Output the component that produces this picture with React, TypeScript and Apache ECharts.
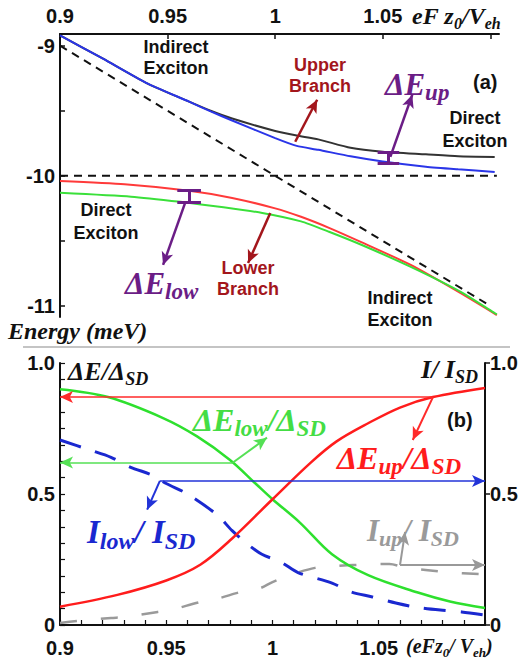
import React, { useEffect, useRef } from 'react';
import * as echarts from 'echarts';

const SANS = '"Liberation Sans", Arial, sans-serif';
const SERIF = '"Liberation Serif", "Times New Roman", serif';

// ---------- panel (a) data ----------
const blackX = [0.9, 0.92, 0.94, 0.96, 0.97, 0.98, 1.0, 1.01, 1.02, 1.035, 1.05, 1.07, 1.085, 1.102];
const blackE = [-8.92, -9.1, -9.285, -9.43, -9.5, -9.56, -9.655, -9.69, -9.72, -9.785, -9.815, -9.835, -9.85, -9.855];
const blueX = [0.9, 0.92, 0.94, 0.96, 0.97, 0.98, 1.0, 1.01, 1.02, 1.035, 1.05, 1.07, 1.085, 1.102];
const blueE = [-8.92, -9.1, -9.285, -9.43, -9.505, -9.575, -9.71, -9.77, -9.8, -9.85, -9.89, -9.93, -9.95, -9.97];
const redX = [0.9, 0.93, 0.96, 0.98, 1.0, 1.012, 1.025, 1.04, 1.063, 1.086, 1.103];
const redE = [-10.04, -10.065, -10.115, -10.17, -10.25, -10.315, -10.4, -10.51, -10.685, -10.9, -11.07];
const greenX = [0.9, 0.933, 0.956, 0.975, 0.994, 1.012, 1.025, 1.04, 1.063, 1.086, 1.103];
const greenE = [-10.13, -10.16, -10.2, -10.24, -10.285, -10.35, -10.43, -10.53, -10.7, -10.89, -11.065];
const indirectX = [0.9, 1.1];
const indirectE = [-9, -11];
const directX = [0.9, 1.103];
const directE = [-10, -10];

const topTickLabels = [0.9, 0.95, 1, 1.05];
const topTicks = [0.9, 0.95, 1, 1.05, 1.1];
const energyLabels = [-11, -10, -9];
const energyTicks = [-11, -10.5, -10, -9.5, -9];

// ---------- panel (b) data ----------
const gLowX = [0.9, 0.9226, 0.9485, 0.9645, 0.98, 0.992, 1.0, 1.013, 1.028, 1.045, 1.068, 1.0835, 1.1];
const gLowY = [0.9, 0.87, 0.79, 0.72, 0.63, 0.54, 0.48, 0.39, 0.27, 0.19, 0.125, 0.09, 0.065];
const rUpX = [0.9, 0.927, 0.95, 0.966, 0.981, 1.0, 1.018, 1.03, 1.045, 1.06, 1.0755, 1.1];
const rUpY = [0.07, 0.115, 0.17, 0.23, 0.33, 0.48, 0.62, 0.7, 0.77, 0.83, 0.87, 0.905];
const iLowX = [0.9, 0.914, 0.924, 0.933, 0.944, 0.95, 0.96, 0.974, 0.981, 0.988, 0.995, 1.004, 1.012, 1.028, 1.037, 1.047, 1.058, 1.067, 1.079, 1.089, 1.1];
const iLowY = [0.706, 0.668, 0.64, 0.603, 0.57, 0.54, 0.5, 0.42, 0.36, 0.31, 0.27, 0.24, 0.2, 0.16, 0.126, 0.107, 0.084, 0.069, 0.057, 0.05, 0.038];
const iUpX = [0.9, 0.908, 0.924, 0.93, 0.946, 0.952, 0.966, 0.974, 0.985, 0.994, 1.0, 1.008, 1.02, 1.03, 1.038, 1.055, 1.063, 1.072, 1.084, 1.097];
const iUpY = [0.008, 0.015, 0.027, 0.03, 0.05, 0.057, 0.088, 0.1, 0.126, 0.14, 0.164, 0.19, 0.218, 0.225, 0.229, 0.233, 0.218, 0.21, 0.2, 0.195];

const botTickLabels = [0.9, 0.95, 1, 1.05];
const botTicks = Array.from({ length: 21 }, (_, i) => +(0.9 + i * 0.01).toFixed(2));
const ratioLabels = [0, 0.5, 1];
const ratioTicks = Array.from({ length: 17 }, (_, i) => i / 16);

// ---------- annotation anchor points (data coordinates) ----------
const upperBranchArrow = [[1.0093, -9.738], [1.0195, -9.415]];
const lowerBranchArrow = [[0.9977, -10.285], [0.9874, -10.67]];
const dEupArrow = [[1.0535, -9.854], [1.0637, -9.377]];
const dElowArrow = [[0.9581, -10.21], [0.9479, -10.685]];
const dEupBar = { x: 1.0526, w: 0.005, y1: -9.815, y2: -9.9 };
const dElowBar = { x: 0.96, w: 0.0055, y1: -10.108, y2: -10.2 };

const redRef = [[1.0755, 0.87], [0.9, 0.87], [1.066, 0.706]];
const greenRef = [[0.9814, 0.62], [0.9, 0.62], [0.9974, 0.715]];
const blueRef = [[0.947, 0.55], [1.1, 0.55], [0.941, 0.44]];
const grayRef = [[1.06, 0.229], [1.1, 0.229], [1.0624, 0.355]];

const pairs = (xs: number[], ys: number[]) => xs.map((x, i) => [x, ys[i]]);

function seg(a: number[], b: number[], color: string, width: number, arrowEnd: boolean, arrowStart = false) {
  const ls = { color, width, type: 'solid' };
  return [
    { coord: a, symbol: arrowStart ? 'arrow' : 'none', symbolSize: [9, 13], lineStyle: ls },
    { coord: b, symbol: arrowEnd ? 'arrow' : 'none', symbolSize: [9, 13], lineStyle: ls },
  ];
}

function markSeries(xi: number, yi: number, data: any[]) {
  return {
    type: 'line', xAxisIndex: xi, yAxisIndex: yi, data: [], clip: false, silent: true,
    markLine: { silent: true, animation: false, label: { show: false }, symbol: ['none', 'none'], data },
  };
}

function txt(x: number, y: number, text: string, size: number, fill: string, align = 'center', weight = 'bold', family = SANS, style = 'normal') {
  return {
    type: 'text', x, y, silent: true,
    style: { text, fill, textAlign: align, textVerticalAlign: 'middle', font: `${style} ${weight} ${size}px ${family}` },
  };
}

function two(x: number, y: number, a: string, b: string, size: number, fill: string, gap = 22) {
  return [txt(x, y, a, size, fill), txt(x, y + gap, b, size, fill)];
}

// italic serif text with subscripts; y is the centre of the main glyphs
function rich(x: number, y: number, parts: Array<[string, boolean]>, size: number, subSize: number, fill: string, align = 'left') {
  const e = 0.17 * size + 0.39 * (size - subSize);
  const L = size / 2 + e + subSize / 2;
  const p = Math.max(0, L - subSize);
  return {
    type: 'text', x, y: y + (L - size) / 2, silent: true,
    style: {
      text: parts.map(([t, s]) => `{${s ? 's' : 'm'}|${t}}`).join(''),
      fill, textAlign: align, textVerticalAlign: 'middle',
      rich: {
        m: { fontFamily: SERIF, fontStyle: 'italic', fontWeight: 'bold', fontSize: size, lineHeight: size, verticalAlign: 'top', fill },
        s: { fontFamily: SERIF, fontStyle: 'italic', fontWeight: 'bold', fontSize: subSize, padding: [p, 0, 0, 0], verticalAlign: 'bottom', fill },
      },
    },
  };
}

const tickFont = { fontFamily: SANS, fontWeight: 'bold', fontSize: 20, color: '#111' };
const axLine = { show: true, lineStyle: { color: '#111', width: 2 } };
const fmt = (v: number) => (v === 1 ? '1' : String(v));

export default function App() {
  const ref = useRef<HTMLDivElement>(null);
  useEffect(() => {
    if (!ref.current) return;
    const chart = echarts.init(ref.current, undefined, { renderer: 'svg' });
    const PURPLE = '#6b1d86';
    const DRED = '#a3161c';
    const line = (xi: number, yi: number, d: number[][], color: string, width: number, type: any = 'solid', smooth = 0.2) => ({
      type: 'line', xAxisIndex: xi, yAxisIndex: yi, data: d, showSymbol: false, clip: false, smooth,
      lineStyle: { color, width, type },
    });
    const option: any = {
      animation: false,
      backgroundColor: '#fff',
      grid: [
        { left: 60, top: 34, width: 439, height: 283 },
        { left: 60, top: 363, width: 425, height: 262 },
      ],
      xAxis: [
        {
          gridIndex: 0, type: 'value', position: 'top', min: 0.9, max: 1.104,
          axisLine: axLine, splitLine: { show: false },
          axisTick: { show: true, inside: true, length: 5, customValues: topTicks, lineStyle: { color: '#111', width: 1.5 } },
          axisLabel: { ...tickFont, margin: 8, customValues: topTickLabels, formatter: fmt },
        },
        {
          gridIndex: 1, type: 'value', position: 'bottom', min: 0.9, max: 1.1,
          axisLine: axLine, splitLine: { show: false },
          axisTick: { show: true, inside: true, length: 5, customValues: botTicks, lineStyle: { color: '#111', width: 1.2 } },
          axisLabel: { ...tickFont, margin: 13, customValues: botTickLabels, formatter: fmt },
        },
      ],
      yAxis: [
        {
          gridIndex: 0, type: 'value', min: -11.085, max: -8.91,
          axisLine: axLine, splitLine: { show: false },
          axisTick: { show: true, inside: true, length: 5, customValues: energyTicks, lineStyle: { color: '#111', width: 1.5 } },
          axisLabel: { ...tickFont, margin: 5, customValues: energyLabels, formatter: (v: number) => String(v) },
        },
        {
          gridIndex: 1, type: 'value', min: 0, max: 1, position: 'left',
          axisLine: axLine, splitLine: { show: false },
          axisTick: { show: true, inside: true, length: 5, customValues: ratioTicks, lineStyle: { color: '#111', width: 1.2 } },
          axisLabel: { ...tickFont, margin: 5, customValues: ratioLabels, formatter: (v: number) => (v === 1 ? '1.0' : String(v)) },
        },
        {
          gridIndex: 1, type: 'value', min: 0, max: 1, position: 'right',
          axisLine: axLine, splitLine: { show: false },
          axisTick: { show: true, inside: false, length: 5, customValues: ratioLabels, lineStyle: { color: '#111', width: 1.5 } },
          axisLabel: { ...tickFont, margin: 5, customValues: ratioLabels, formatter: (v: number) => (v === 1 ? '1.0' : String(v)) },
        },
      ],
      series: [
        line(0, 0, pairs(indirectX, indirectE), '#111', 2, [8, 6], 0),
        line(0, 0, pairs(directX, directE), '#111', 2, [8, 6], 0),
        line(0, 0, pairs(blackX, blackE), '#333', 2),
        line(0, 0, pairs(blueX, blueE), '#2a35e8', 2),
        line(0, 0, pairs(redX, redE), '#ff3a3a', 2),
        line(0, 0, pairs(greenX, greenE), '#3ae03a', 2),
        markSeries(0, 0, [
          seg(upperBranchArrow[0], upperBranchArrow[1], DRED, 2.5, true),
          seg(lowerBranchArrow[0], lowerBranchArrow[1], DRED, 2.5, true),
          seg(dEupArrow[0], dEupArrow[1], PURPLE, 2.5, true),
          seg(dElowArrow[0], dElowArrow[1], PURPLE, 2.5, true),
          seg([dEupBar.x - dEupBar.w, dEupBar.y1], [dEupBar.x + dEupBar.w, dEupBar.y1], PURPLE, 3, false),
          seg([dEupBar.x - dEupBar.w, dEupBar.y2], [dEupBar.x + dEupBar.w, dEupBar.y2], PURPLE, 3, false),
          seg([dEupBar.x, dEupBar.y1], [dEupBar.x, dEupBar.y2], PURPLE, 3, false),
          seg([dElowBar.x - dElowBar.w, dElowBar.y1], [dElowBar.x + dElowBar.w, dElowBar.y1], PURPLE, 3, false),
          seg([dElowBar.x - dElowBar.w, dElowBar.y2], [dElowBar.x + dElowBar.w, dElowBar.y2], PURPLE, 3, false),
          seg([dElowBar.x, dElowBar.y1], [dElowBar.x, dElowBar.y2], PURPLE, 3, false),
        ]),
        line(1, 1, pairs(iUpX, iUpY), '#9a9a9a', 2.5, [17, 24], 0.3),
        line(1, 1, pairs(iLowX, iLowY), '#1a28d0', 3, [22, 15], 0.3),
        line(1, 1, pairs(gLowX, gLowY), '#2ee02e', 2.5, 'solid', 0.35),
        line(1, 1, pairs(rUpX, rUpY), '#ff1c1c', 2.5, 'solid', 0.35),
        markSeries(1, 1, [
          seg(redRef[0], redRef[1], '#ff2a2a', 1.5, true),
          seg(redRef[0], redRef[2], '#ff2a2a', 2, true),
          seg(greenRef[0], greenRef[1], '#55e055', 1.5, true),
          seg(greenRef[0], greenRef[2], '#55e055', 2, true),
          seg(blueRef[0], blueRef[1], '#2233d8', 1.5, true),
          seg(blueRef[0], blueRef[2], '#2233d8', 2, true),
          seg(grayRef[0], grayRef[1], '#999', 2, true),
          seg(grayRef[0], grayRef[2], '#999', 2, true),
        ]),
      ],
      graphic: [
        rich(412, 16, [['eF z', false], ['0', true], ['/V', false], ['eh', true]], 24, 16, '#111'),
        ...two(176, 47, 'Indirect', 'Exciton', 18, '#111', 21),
        ...two(320, 65, 'Upper', 'Branch', 18, DRED, 21),
        rich(385, 84, [['ΔE', false], ['up', true]], 31, 23, PURPLE),
        txt(473, 82, '(a)', 20, '#111', 'left'),
        ...two(475, 118, 'Direct', 'Exciton', 18, '#111', 23),
        ...two(106, 210, 'Direct', 'Exciton', 18, '#111', 23),
        rich(125, 283, [['ΔE', false], ['low', true]], 31, 23, PURPLE),
        ...two(248, 268, 'Lower', 'Branch', 18, DRED, 21),
        ...two(400, 298, 'Indirect', 'Exciton', 18, '#111', 22),
        txt(8, 331, 'Energy (meV)', 24, '#111', 'left', 'bold', SERIF, 'italic'),
        { type: 'line', silent: true, shape: { x1: 23, y1: 347, x2: 510, y2: 347 }, style: { stroke: '#c4c4c4', lineWidth: 2 } },
        rich(68, 371, [['ΔE/Δ', false], ['SD', true]], 26, 18, '#111'),
        rich(478, 369, [['I/ I', false], ['SD', true]], 26, 18, '#111', 'right'),
        txt(447, 420, '(b)', 20, '#111', 'left'),
        rich(193, 420, [['ΔE', false], ['low', true], ['/Δ', false], ['SD', true]], 32, 23, '#44dd44'),
        rich(337, 458, [['ΔE', false], ['up', true], ['/Δ', false], ['SD', true]], 32, 23, '#ff1c1c'),
        rich(87, 532, [['I', false], ['low', true], ['/ I', false], ['SD', true]], 33, 24, '#1a28d0'),
        rich(367, 530, [['I', false], ['up', true], ['/ I', false], ['SD', true]], 31, 22, '#9a9a9a'),
        rich(406, 646, [['(eFz', false], ['0', true], ['/ V', false], ['eh', true], [')', false]], 20, 13, '#111'),
      ],
    };
    chart.setOption(option);
    return () => chart.dispose();
  }, []);
  return <div ref={ref} style={{ position: 'absolute', left: 0, top: 0, width: 529, height: 659, background: '#fff' }} />;
}
